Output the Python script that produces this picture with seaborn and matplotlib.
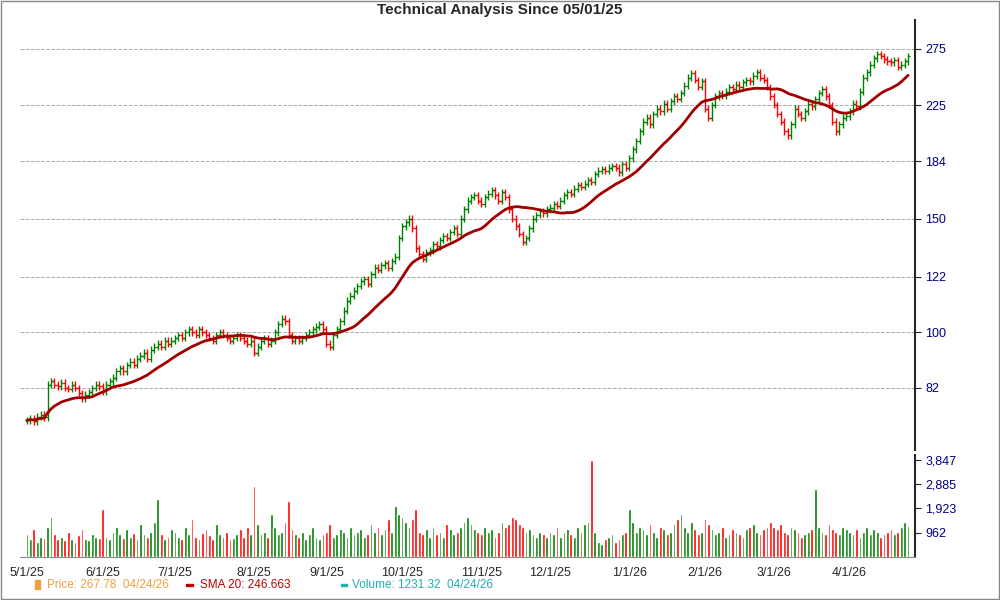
import matplotlib.pyplot as plt
import matplotlib.ticker as mticker
import numpy as np
import pandas as pd
import seaborn as sns

# %% DATA (daily closes and volumes, by month)
close_may = [73, 73.5, 72.8, 74, 74.5, 73.8, 83, 84, 83, 82.5, 83.5, 82, 81.8, 83, 82, 80.5, 79, 80, 80.8, 82, 83, 82.5]
close_jun = [81, 83, 84, 85, 87, 88, 87, 89, 90, 89, 91, 92, 93, 91, 94, 95, 96, 95, 97, 96, 97]
close_jul = [98, 99, 98, 100, 101, 100, 99, 101, 100, 99, 98, 97, 99, 100, 99, 98, 97, 98, 99, 98, 97, 96, 97]
close_aug = [93, 95, 97, 98, 96, 97, 100, 103, 105, 104, 99, 97, 98, 97, 98, 99, 100, 101, 102, 103, 101]
close_sep = [96, 95, 99, 101, 104, 108, 112, 114, 116, 118, 120, 121, 119, 123, 126, 125, 127, 128, 126, 129, 131, 140]
close_oct = [146, 148, 150, 145, 135, 132, 130, 133, 134, 137, 136, 139, 141, 140, 143, 145, 142, 150, 155, 160, 162, 163, 160]
close_nov = [158, 162, 164, 166, 163, 160, 165, 162, 155, 150, 146, 142, 138, 140, 145, 150, 152, 154, 153, 155]
close_dec = [156, 158, 157, 160, 163, 165, 164, 167, 169, 168, 170, 172, 171, 176, 178, 179, 178, 180, 181, 180, 177, 182, 180]
close_jan = [186, 192, 198, 205, 212, 215, 210, 218, 222, 220, 226, 222, 228, 232, 230, 235, 241, 248, 252, 246, 240, 245]
close_feb = [222, 215, 225, 232, 235, 233, 236, 240, 238, 242, 240, 244, 246, 245, 250, 253, 248, 246, 240, 232]
close_mar = [225, 218, 212, 205, 202, 210, 222, 218, 215, 220, 226, 224, 230, 235, 238, 232, 225, 212, 205, 210, 215, 216]
close_apr = [220, 226, 224, 236, 248, 253, 260, 266, 270, 268, 265, 263, 262, 264, 258, 260, 263, 267.78]

vol_may = [900, 700, 1100, 600, 800, 750, 1200, 1600, 900, 700, 800, 650, 1000, 700, 600, 850, 1100, 700, 650, 900, 800, 750]
vol_jun = [1900, 800, 700, 1000, 1200, 900, 750, 1100, 800, 950, 700, 1300, 900, 800, 1000, 1400, 2300, 900, 700, 800, 1100]
vol_jul = [1000, 800, 700, 1200, 900, 1500, 800, 700, 950, 1100, 850, 700, 1300, 900, 800, 1000, 700, 750, 900, 1100, 800, 1200, 900]
vol_aug = [2800, 1300, 900, 1000, 800, 1700, 1200, 900, 1000, 1400, 2200, 1100, 900, 800, 1000, 700, 900, 1200, 800, 700, 900]
vol_sep = [1000, 1300, 800, 900, 1100, 1000, 800, 1200, 900, 1000, 1100, 800, 900, 1300, 1000, 1200, 900, 1100, 1500, 1000, 2000, 1700]
vol_oct = [1600, 1400, 1200, 1500, 1900, 1000, 900, 1100, 800, 1200, 900, 1000, 800, 1300, 1100, 900, 1000, 1200, 1400, 1600, 1300, 1100, 1000]
vol_nov = [900, 1200, 1000, 1100, 800, 1000, 1400, 1200, 1300, 1600, 1500, 1300, 1200, 1000, 1100, 900, 800, 1000, 900, 800]
vol_dec = [1000, 900, 1200, 800, 1000, 1100, 900, 800, 1200, 1000, 1300, 1400, 3847, 1000, 600, 500, 700, 800, 900, 600, 700, 900, 1000]
vol_jan = [1900, 1400, 1000, 1200, 1100, 900, 1300, 1000, 800, 1200, 1100, 900, 1000, 1300, 1500, 1700, 1200, 1000, 1400, 1100, 900, 1000]
vol_feb = [1500, 1300, 1100, 900, 1000, 1200, 800, 900, 1100, 1000, 900, 800, 1100, 1200, 1300, 1000, 900, 1100, 1200, 1400]
vol_mar = [1200, 1100, 1300, 1000, 900, 1200, 1100, 1000, 800, 900, 1000, 1100, 2700, 1200, 1000, 900, 1300, 1100, 1000, 900, 1200, 1100]
vol_apr = [1000, 900, 1100, 800, 1000, 1200, 900, 1100, 1000, 800, 900, 1000, 1100, 900, 1000, 1200, 1400, 1231.32]

month_ticks = ["5/1/25", "6/1/25", "7/1/25", "8/1/25", "9/1/25", "10/1/25",
               "11/1/25", "12/1/25", "1/1/26", "2/1/26", "3/1/26", "4/1/26"]
price_ticks = [82, 100, 122, 150, 184, 225, 275]
vol_ticks = [962, 1923, 2885, 3847]

# %% PREP
closes = np.array(close_may + close_jun + close_jul + close_aug + close_sep + close_oct
                  + close_nov + close_dec + close_jan + close_feb + close_mar + close_apr, dtype=float)
volumes = np.array(vol_may + vol_jun + vol_jul + vol_aug + vol_sep + vol_oct
                   + vol_nov + vol_dec + vol_jan + vol_feb + vol_mar + vol_apr, dtype=float)
dates = pd.bdate_range("2025-05-01", "2026-04-24")
n = min(len(dates), len(closes), len(volumes))
dates, closes, volumes = dates[:n], closes[:n], volumes[:n]
opens = np.concatenate([[closes[0]], closes[:-1]])
highs = np.maximum(opens, closes) * 1.012
lows = np.minimum(opens, closes) * 0.988
sma = pd.Series(closes).rolling(20, min_periods=1).mean().to_numpy()
up = closes >= opens
colors = np.where(up, "#008000", "#ff0000")
x = np.arange(n)

# %% PLOTTING
sns.set_style("white")
plt.rcParams["font.family"] = ["Liberation Sans", "DejaVu Sans"]
fig = plt.figure(figsize=(10, 6), dpi=100)
ax = fig.add_axes([0.02, 0.25, 0.895, 0.717])
axv = fig.add_axes([0.02, 0.072, 0.895, 0.17], sharex=ax)

ax.vlines(x, lows, highs, colors=colors, linewidth=1)
ax.hlines(opens, x - 0.6, x, colors=colors, linewidth=1)
ax.hlines(closes, x, x + 0.6, colors=colors, linewidth=1)
sns.lineplot(x=x, y=sma, ax=ax, color="#a00000", linewidth=2)

ax.set_yscale("log")
ax.set_ylim(65.7, 305)
ax.yaxis.tick_right()
ax.set_yticks(price_ticks)
ax.yaxis.set_major_formatter(mticker.FixedFormatter([str(t) for t in price_ticks]))
ax.yaxis.set_minor_locator(mticker.NullLocator())
ax.tick_params(axis="y", labelsize=9, length=4, labelcolor="#000080")
ax.grid(axis="y", color="#aaaaaa", linestyle="--", linewidth=0.7)
for s in ["top", "left", "bottom"]:
    ax.spines[s].set_visible(False)
ax.spines["right"].set_linewidth(1.5)
ax.tick_params(axis="x", bottom=False, labelbottom=False)
fig.text(0.5, 0.983, "Technical Analysis Since 05/01/25", fontsize=11, fontweight="bold",
         ha="center", va="center")

axv.bar(x, volumes, width=0.8, color=colors)
axv.set_ylim(0, 4050)
axv.yaxis.tick_right()
axv.set_yticks(vol_ticks)
axv.set_yticklabels([f"{t:,}" for t in vol_ticks])
axv.tick_params(axis="y", labelsize=9, labelcolor="#000080", length=4)
for s in ["top", "left"]:
    axv.spines[s].set_visible(False)
axv.spines["right"].set_linewidth(1.5)
axv.spines["bottom"].set_color("#888888")

month_starts = [np.argmax(dates >= pd.Timestamp(d)) for d in
                pd.date_range("2025-05-01", "2026-04-01", freq="MS")]
axv.set_xticks(month_starts)
axv.set_xticklabels(month_ticks, fontsize=9)
axv.tick_params(axis="x", length=4, direction="out")
axv.set_xlim(-2, n + 1)

# legend texts
fig.patches.append(plt.Rectangle((0.035, 0.018), 0.005, 0.015, color="#f0a040",
                                 transform=fig.transFigure, figure=fig))
fig.text(0.047, 0.025, "Price: 267.78  04/24/26", color="#f0a040", fontsize=8.5, va="center")
fig.patches.append(plt.Rectangle((0.186, 0.023), 0.007, 0.004, color="#c00000",
                                 transform=fig.transFigure, figure=fig))
fig.text(0.200, 0.025, "SMA 20: 246.663", color="#c00000", fontsize=8.5, va="center")
fig.patches.append(plt.Rectangle((0.341, 0.024), 0.006, 0.002, color="#20b0b0",
                                 transform=fig.transFigure, figure=fig))
fig.text(0.352, 0.025, "Volume: 1231.32  04/24/26", color="#20b0b0", fontsize=8.5, va="center")
fig.patches.append(plt.Rectangle((0.001, 0.001), 0.998, 0.998, fill=False, edgecolor="#888888",
                                 linewidth=1, transform=fig.transFigure, figure=fig))

fig.savefig("out.png", dpi=100)
